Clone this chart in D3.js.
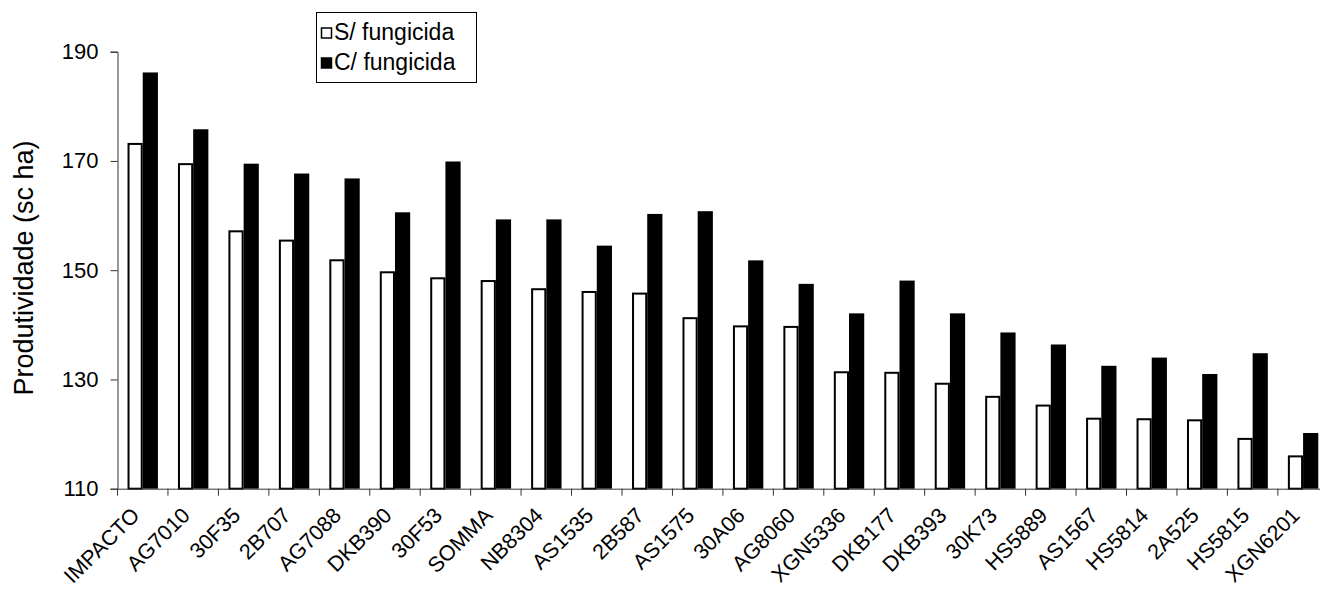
<!DOCTYPE html>
<html><head><meta charset="utf-8">
<script src="https://cdn.jsdelivr.net/npm/d3@7"></script>
<style>
html,body{margin:0;padding:0;background:#fff;}
svg{display:block;font-family:Arial,"Liberation Sans",sans-serif;}
</style></head>
<body>
<svg id="chart" width="1320" height="592"></svg>
<script>
const categories = ["IMPACTO","AG7010","30F35","2B707","AG7088","DKB390","30F53","SOMMA","NB8304","AS1535","2B587","AS1575","30A06","AG8060","XGN5336","DKB177","DKB393","30K73","HS5889","AS1567","HS5814","2A525","HS5815","XGN6201"];
const semFungicida = [173.3,169.6,157.3,155.6,152.0,149.8,148.7,148.2,146.7,146.2,145.9,141.4,139.9,139.8,131.5,131.4,129.4,127.0,125.4,123.0,122.9,122.7,119.3,116.1];
const comFungicida = [186.2,175.8,169.5,167.7,166.8,160.6,169.9,159.3,159.3,154.5,160.3,160.8,151.8,147.5,142.1,148.1,142.1,138.6,136.4,132.5,134.0,131.0,134.8,120.2];
const seriesNames = ["S/ fungicida","C/ fungicida"];
const yTicks = [110,130,150,170,190];
const yTitle = "Produtividade (sc ha)";

const svg = d3.select("#chart");
const x0 = 117.5, yTop = 51.7, yBot = 488.7, step = 50.45;
const x = d3.scaleBand().domain(categories).range([x0, x0 + step*categories.length]).paddingInner(0).paddingOuter(0);
const xs = d3.scaleBand().domain(seriesNames).range([0, x.bandwidth()]).paddingInner(0).paddingOuter(0.66);
const y = d3.scaleLinear().domain([110,190]).range([yBot, yTop]);

const data = categories.map((c,i)=>({c, vals:[{s:seriesNames[0], v:semFungicida[i]},{s:seriesNames[1], v:comFungicida[i]}]}));

const g = svg.append("g");
const groups = g.selectAll("g.cat").data(data).join("g").attr("transform", d=>`translate(${x(d.c)},0)`);
groups.selectAll("rect").data(d=>d.vals).join("rect")
  .attr("x", d=> d.s===seriesNames[0] ? xs(d.s)+1 : xs(d.s))
  .attr("width", d=> d.s===seriesNames[0] ? xs.bandwidth()-2 : xs.bandwidth())
  .attr("y", d=> d.s===seriesNames[0] ? y(d.v)+1 : y(d.v))
  .attr("height", d=> d.s===seriesNames[0] ? yBot - y(d.v) - 1 : yBot - y(d.v))
  .attr("fill", d=> d.s===seriesNames[0] ? "#fff" : "#000")
  .attr("stroke", "#000")
  .attr("stroke-width", d=> d.s===seriesNames[0] ? 2 : 0);

// y axis
const yAxis = d3.axisLeft(y).tickValues(yTicks).tickSize(7).tickPadding(12).tickFormat(d3.format("d"));
const ya = svg.append("g").attr("transform",`translate(${x0},0)`).call(yAxis);
ya.select(".domain").attr("stroke","#333");
ya.selectAll(".tick line").attr("stroke","#333");
ya.selectAll(".tick text").attr("font-size",22).attr("fill","#000").attr("font-family","Arial, 'Liberation Sans', sans-serif");

// x axis
const xAxis = d3.axisBottom(x).tickSize(0).tickFormat("");
const xa = svg.append("g").attr("transform",`translate(0,${yBot})`).call(xAxis);
xa.select(".domain").attr("stroke","#333");
xa.selectAll("line.bnd").data(categories).join("line").attr("class","bnd")
  .attr("x1", d=>x(d)).attr("x2", d=>x(d)).attr("y1",0).attr("y2",7).attr("stroke","#333");
svg.append("g").selectAll("text").data(categories).join("text")
  .attr("transform", d=>`translate(${x(d)+x.bandwidth()/2-2},${yBot+28}) rotate(-45)`)
  .attr("text-anchor","end")
  .attr("font-size",21.5)
  .attr("fill","#000")
  .text(d=>d);

// y title
svg.append("text").attr("transform","translate(33,268) rotate(-90)")
  .attr("text-anchor","middle").attr("font-size",27).attr("fill","#000").text(yTitle);

// legend
const lg = svg.append("g");
lg.append("rect").attr("x",316.5).attr("y",12.5).attr("width",160).attr("height",70).attr("fill","#fff").attr("stroke","#000");
seriesNames.forEach((s,i)=>{
  const yy = 28 + i*30;
  lg.append("rect").attr("x",321.5).attr("y",yy).attr("width",10).attr("height",10)
    .attr("fill", i===0?"#fff":"#000").attr("stroke","#000").attr("stroke-width",1.5);
  lg.append("text").attr("x",334).attr("y",yy+12).attr("font-size",23).attr("fill","#000").text(s);
});
</script>
</body></html>
